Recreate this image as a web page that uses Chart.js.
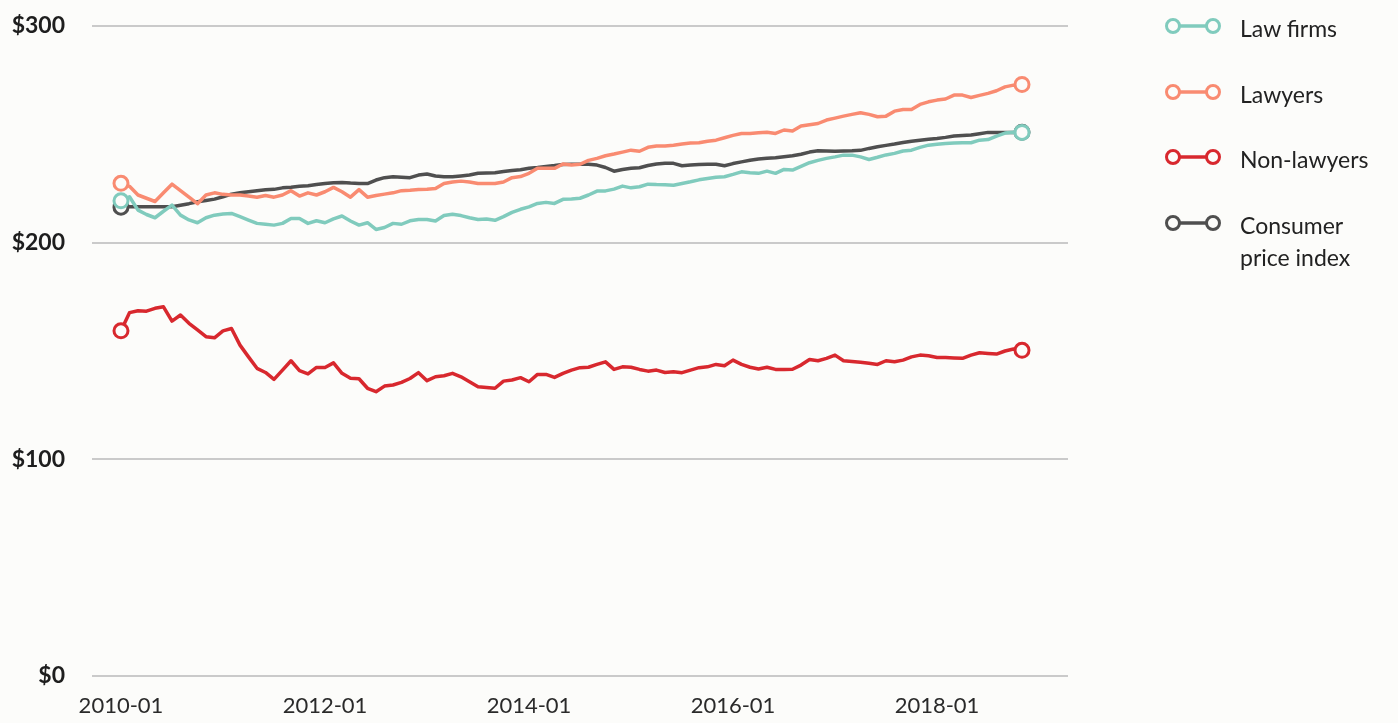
<!DOCTYPE html>
<html>
<head>
<meta charset="utf-8">
<script src="https://cdn.jsdelivr.net/npm/chart.js@4.4.0/dist/chart.umd.min.js"></script>
<style>
  html, body { margin: 0; padding: 0; background: #fcfcfa; }
  #wrap { position: relative; width: 1398px; height: 723px; }
  #chart { position: absolute; left: 0; top: 0; }
  .legend { position: absolute; left: 1163px; top: 0; font-family: Lato, "Open Sans", sans-serif; font-size: 23px; color: #222; }
  .item { position: absolute; left: 0; white-space: nowrap; }
  .item svg { position: absolute; left: 0; }
  .item span { position: absolute; left: 77px; line-height: 32px; }
</style>
</head>
<body>
<div id="wrap">
  <canvas id="chart" width="1398" height="723"></canvas>
  <div class="legend" id="legend"></div>
</div>
<script>
// ---- data ----
const startYear = 2010, startMonth = 1, monthCount = 107;   // 2010-01 .. 2018-11
const tickLabels = ["2010-01", "2012-01", "2014-01", "2016-01", "2018-01"];
const yTicks = [0, 100, 200, 300];
const seriesNames = ["Law firms", "Lawyers", "Non-lawyers", "Consumer price index"];
const seriesColors = ["#80cbbd", "#f98b71", "#d8282e", "#4f4f4f"];

const lawFirms = [
  219.3, 221.2, 215, 213, 211.5, 214.5, 217.3, 212.7, 210.5, 209.2,
  211.5, 212.7, 213.2, 213.5, 212, 210.4, 208.9, 208.5, 208.1, 208.9,
  211.2, 211.2, 208.9, 210.1, 209.2, 211, 212.3, 210, 208.1, 209.2,
  206.1, 207, 208.9, 208.5, 210.1, 210.7, 210.7, 210, 212.5, 213.1,
  212.5, 211.5, 210.7, 210.9, 210.3, 212, 214, 215.4, 216.5, 218.1,
  218.6, 218.1, 220, 220.2, 220.5, 222, 223.8, 223.9, 224.7, 226.1,
  225.3, 225.8, 227, 226.8, 226.7, 226.5, 227.3, 228.1, 229, 229.6,
  230.2, 230.4, 231.5, 232.7, 232.3, 232, 233, 232, 233.8, 233.5,
  235.2, 236.9, 238, 238.9, 239.6, 240.4, 240.4, 239.6, 238.4, 239.4,
  240.5, 241.2, 242.3, 242.7, 244, 245, 245.4, 245.8, 246, 246.1,
  246.1, 247.3, 247.6, 249.2, 250.6, 251, 250.9
];
const lawyers = [
  227.4, 226, 222, 220.5, 219, 223, 227, 224, 221, 218,
  222, 223, 222.3, 222, 222, 221.5, 221, 221.8, 221, 222,
  224, 221.5, 223, 222, 223.5, 225.5, 223.5, 221, 224.5, 221,
  221.8, 222.4, 223, 224, 224.2, 224.5, 224.7, 225, 227.3, 228,
  228.4, 228, 227.3, 227.3, 227.3, 228, 230, 230.5, 232, 234.3,
  234.3, 234.3, 236.3, 235.8, 236.2, 238, 238.9, 240.1, 240.9, 241.8,
  242.7, 242.2, 244, 244.6, 244.6, 245, 245.5, 246, 246.1, 246.8,
  247.3, 248.4, 249.5, 250.4, 250.4, 250.7, 251, 250.4, 252, 251.5,
  253.8, 254.4, 255, 256.6, 257.5, 258.4, 259.2, 260, 259.2, 258.1,
  258.4, 260.7, 261.5, 261.5, 263.8, 265, 265.8, 266.3, 268.1, 268.1,
  267, 268, 268.9, 270.1, 271.9, 272.7, 273
];
const nonLawyers = [
  159.3, 167.7, 168.6, 168.4, 169.7, 170.4, 163.8, 166.6, 162.8, 159.7,
  156.6, 156.1, 159.3, 160.4, 152.7, 147.3, 142, 140.1, 136.9, 141.2,
  145.5, 140.9, 139.4, 142.4, 142.4, 144.5, 139.7, 137.4, 137.2, 132.8,
  131.2, 133.8, 134.3, 135.5, 137.3, 140, 136.3, 138.1, 138.6, 139.7,
  138.1, 135.8, 133.5, 133.2, 132.8, 136.1, 136.6, 137.7, 135.8, 139.2,
  139.2, 137.8, 139.7, 141.2, 142.3, 142.5, 143.8, 145, 141.5, 142.7,
  142.5, 141.5, 140.7, 141.2, 140.1, 140.4, 140, 141.2, 142.3, 142.7,
  143.8, 143.2, 145.8, 143.8, 142.5, 141.7, 142.5, 141.5, 141.5, 141.6,
  143.5, 146.1, 145.5, 146.6, 148.1, 145.5, 145.2, 144.8, 144.3, 143.8,
  145.5, 145, 145.8, 147.3, 148.1, 147.8, 147, 147, 146.8, 146.6,
  148.1, 149.2, 148.9, 148.6, 150, 150.9, 150.3
];
const cpi = [
  216.4, 216.6, 216.6, 216.6, 216.6, 216.6, 216.6, 217.3, 218, 218.9,
  219.5, 220.1, 221.2, 222.4, 223, 223.5, 224, 224.4, 224.6, 225.3,
  225.6, 226, 226.3, 226.8, 227.3, 227.6, 227.8, 227.5, 227.3, 227.3,
  228.9, 230, 230.4, 230.2, 230, 231.2, 231.7, 230.8, 230.4, 230.4,
  230.8, 231.2, 232, 232.2, 232.3, 232.8, 233.3, 233.7, 234.3, 234.7,
  235.2, 235.6, 236.1, 236.2, 236.2, 236.2, 235.8, 234.7, 233, 233.8,
  234.3, 234.6, 235.6, 236.3, 236.6, 236.6, 235.5, 235.8, 236.1, 236.2,
  236.2, 235.5, 236.5, 237.3, 238, 238.6, 239, 239.2, 239.7, 240.1,
  240.8, 241.8, 242.4, 242.3, 242.2, 242.3, 242.4, 242.6, 243.5, 244.3,
  244.9, 245.5, 246.2, 246.8, 247.3, 247.7, 248.1, 248.6, 249.2, 249.5,
  249.7, 250.3, 250.9, 250.9, 250.9, 250.9, 251
];

// ---- build ----
const months = [];
for (let i = 0; i < monthCount; i++) {
  const m = startMonth - 1 + i;
  const y = startYear + Math.floor(m / 12);
  months.push(y + "-" + String((m % 12) + 1).padStart(2, "0"));
}
const tickIndexes = tickLabels.map(l => months.indexOf(l));
const BG = "#fcfcfa";
const FONT = "Lato, 'Open Sans', sans-serif";

function makeDataset(name, values, color) {
  return {
    label: name,
    data: values.map((v, i) => ({ x: i, y: v })),
    borderColor: color,
    backgroundColor: BG,
    borderWidth: 3.5,
    tension: 0,
    borderJoinStyle: "round",
    pointRadius: ctx => (ctx.dataIndex === 0 || ctx.dataIndex === values.length - 1) ? 7 : 0,
    pointBorderWidth: 3,
    pointBorderColor: color,
    pointBackgroundColor: BG,
    pointHoverRadius: 0,
    clip: false
  };
}

const allSeries = [lawFirms, lawyers, nonLawyers, cpi];

new Chart(document.getElementById("chart"), {
  type: "line",
  data: {
    datasets: allSeries.map((s, k) => makeDataset(seriesNames[k], s, seriesColors[k]))
  },
  options: {
    responsive: false,
    animation: false,
    events: [],
    layout: { padding: { left: 0, right: 330, top: 26, bottom: 0 } },
    plugins: { legend: { display: false }, tooltip: { enabled: false } },
    scales: {
      x: {
        type: "linear",
        min: -3.41,
        max: 111.41,
        afterBuildTicks: scale => { scale.ticks = tickIndexes.map(v => ({ value: v })); },
        afterFit: scale => { scale.height = 47; scale.paddingLeft = 0; scale.paddingRight = 0; },
        grid: { display: false, drawTicks: false },
        border: { display: false },
        ticks: {
          autoSkip: false,
          maxRotation: 0,
          padding: 17,
          color: "#2a2a2a",
          font: { family: FONT, size: 22 },
          callback: v => months[v] || ""
        }
      },
      y: {
        min: 0,
        max: 300,
        afterBuildTicks: scale => { scale.ticks = yTicks.map(v => ({ value: v })); },
        afterFit: scale => { scale.width = 92; scale.paddingTop = 0; scale.paddingBottom = 0; },
        grid: { color: "#cacaca", lineWidth: 2, drawTicks: false },
        border: { display: false },
        ticks: {
          padding: 27,
          color: "#1e1e1e",
          font: { family: FONT, size: 23, weight: "bold" },
          callback: v => "$" + v
        }
      }
    }
  }
});

// ---- HTML legend ----
const legendTops = [26, 92, 157, 223];
const legendEl = document.getElementById("legend");
seriesNames.forEach((name, k) => {
  const item = document.createElement("div");
  item.className = "item";
  item.style.top = legendTops[k] + "px";
  const c = seriesColors[k];
  item.innerHTML =
    '<svg width="64" height="20" style="top:-10px">' +
    '<line x1="10" y1="10" x2="50" y2="10" stroke="' + c + '" stroke-width="3.5"/>' +
    '<circle cx="10" cy="10" r="6.5" fill="' + BG + '" stroke="' + c + '" stroke-width="3"/>' +
    '<circle cx="50" cy="10" r="6.5" fill="' + BG + '" stroke="' + c + '" stroke-width="3"/>' +
    '</svg>';
  const span = document.createElement("span");
  span.style.top = "-14px";
  span.innerHTML = name === "Consumer price index" ? "Consumer<br>price index" : name;
  item.appendChild(span);
  legendEl.appendChild(item);
});
</script>
</body>
</html>
